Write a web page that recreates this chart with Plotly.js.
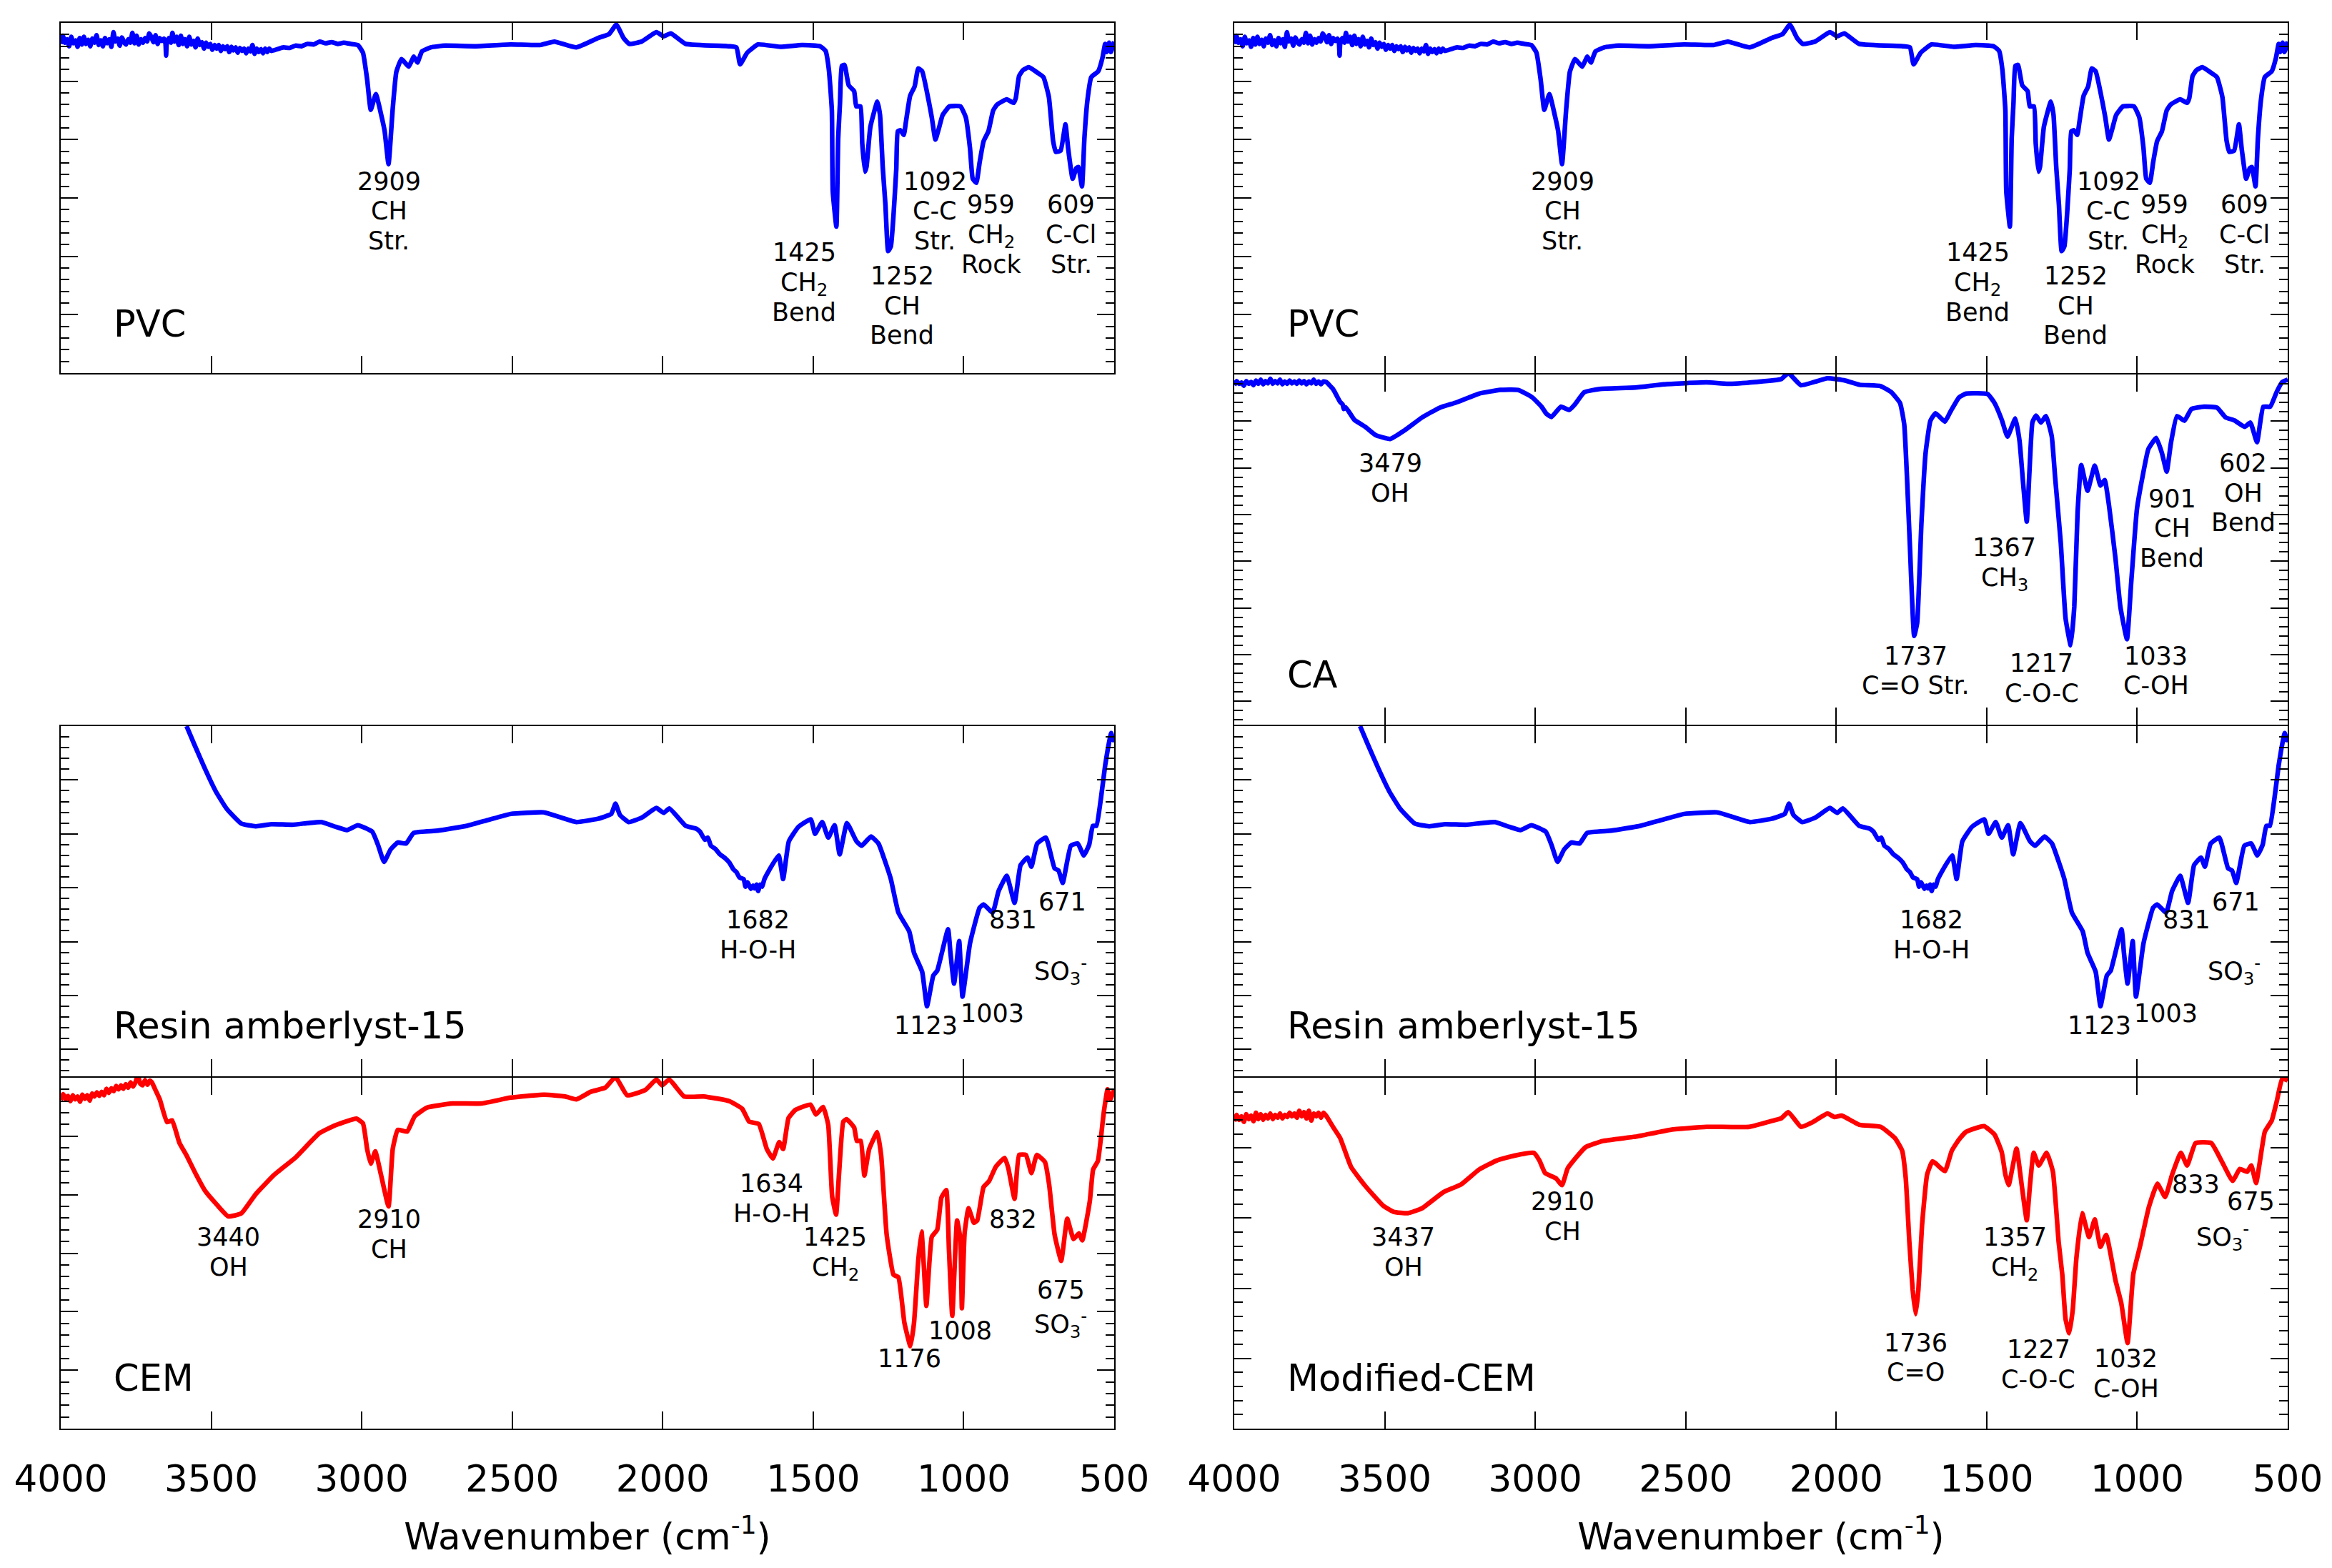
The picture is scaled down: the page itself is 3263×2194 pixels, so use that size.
<!DOCTYPE html>
<html>
<head>
<meta charset="utf-8">
<script src="https://cdn.plot.ly/plotly-3.0.1.min.js"></script>
<style>
  html, body { margin: 0; padding: 0; background: #fff; }
</style>
</head>
<body>
<div id="plot"></div>
<script>
// wavenumber (cm-1) and transmittance (%)
const pvcWn = [
  4000, 3993, 3986, 3979, 3972, 3965, 3958, 3951, 3944, 3937,
  3930, 3923, 3916, 3909, 3902, 3895, 3888, 3881, 3874, 3867,
  3860, 3853, 3846, 3839, 3832, 3825, 3818, 3811, 3804, 3797,
  3790, 3783, 3776, 3769, 3762, 3755, 3748, 3741, 3734, 3727,
  3720, 3713, 3706, 3699, 3692, 3685, 3678, 3671, 3664, 3657,
  3652, 3650, 3648, 3641, 3634, 3629, 3622, 3615, 3608, 3601,
  3594, 3587, 3580, 3573, 3566, 3559, 3552, 3545, 3538, 3531,
  3524, 3517, 3510, 3503, 3496, 3489, 3482, 3475, 3468, 3461,
  3454, 3447, 3440, 3433, 3426, 3419, 3412, 3405, 3398, 3391,
  3384, 3377, 3370, 3363, 3356, 3349, 3342, 3335, 3328, 3321,
  3314, 3307, 3300,
  3280, 3260, 3240, 3220, 3200, 3180, 3160, 3140, 3120, 3100,
  3080, 3060, 3037, 3013, 2996, 2982, 2970, 2953, 2936, 2924,
  2911, 2897, 2885, 2868, 2844, 2827, 2815, 2800, 2771, 2723,
  2626, 2505, 2408, 2360, 2287, 2215, 2178, 2154, 2130, 2111,
  2070, 2021, 1997, 1973, 1924, 1779, 1755, 1743, 1719, 1683,
  1610, 1537, 1477, 1459, 1448, 1438, 1435, 1423, 1417, 1411,
  1405, 1396, 1382, 1364, 1357, 1343, 1337, 1328, 1323, 1310,
  1287, 1278, 1269, 1260, 1251, 1242, 1233, 1224, 1219, 1210,
  1199, 1192, 1178, 1163, 1151, 1138, 1115, 1106, 1094, 1083,
  1070, 1047, 1011, 993, 979, 970, 958, 947, 934, 918,
  902, 889, 857, 834, 827, 816, 803, 784, 753, 735,
  717, 703, 694, 678, 662, 653, 638, 626, 619, 607,
  599, 589, 576, 553, 539, 530, 525, 517, 511, 500
];
const pvcT = [
  96.4, 97.8, 96.6, 97.2, 96.0, 97.6, 96.5, 97.0, 95.9, 97.4,
  96.3, 97.6, 96.4, 97.1, 96.0, 97.3, 96.6, 97.9, 96.2, 97.0,
  96.0, 97.4, 96.5, 97.2, 95.9, 98.4, 96.8, 97.3, 96.1, 97.5,
  96.7, 96.3, 97.2, 96.6, 98.3, 96.5, 97.8, 96.3, 97.2, 96.6,
  97.4, 96.8, 98.2, 97.6, 96.7, 97.9, 96.4, 97.4, 96.9, 97.3,
  96.5, 94.4, 96.4, 97.4, 96.6, 98.3, 96.8, 97.6, 96.2, 97.8,
  96.4, 97.2, 96.0, 97.6, 96.3, 96.9, 95.8, 97.3, 96.2, 96.7,
  95.6, 96.6, 95.9, 96.4, 95.4, 96.2, 95.6, 96.2, 95.2, 96.0,
  95.5, 96.0, 95.0, 95.9, 95.3, 95.8, 94.9, 95.7, 95.2, 95.6,
  94.8, 95.6, 95.1, 96.2, 94.7, 95.6, 95.0, 95.5, 94.8, 95.6,
  95.0, 95.6, 95.2,
  95.5, 95.8, 95.7, 96.1, 96.0, 96.4, 96.3, 96.8, 96.5, 96.7,
  96.4, 96.6, 96.4, 96.2, 94.9, 90.3, 85.1, 87.8, 84.4, 81.5,
  75.8, 85.3, 91.6, 93.8, 92.5, 94.2, 93.2, 95.1, 95.8, 96.1,
  96.0, 96.3, 96.2, 96.8, 95.8, 97.4, 98.1, 99.7, 97.4, 96.4,
  96.8, 98.4, 97.7, 98.2, 96.4, 96.0, 95.8, 92.9, 94.9, 96.3,
  95.9, 96.2, 96.0, 95.2, 92.0, 85.0, 71.2, 65.1, 80.2, 86.3,
  92.6, 92.8, 89.3, 88.3, 85.7, 85.7, 79.3, 74.5, 75.3, 82.2,
  86.5, 84.2, 75.3, 68.8, 60.9, 61.7, 67.2, 74.9, 81.4, 81.6,
  80.8, 83.0, 87.5, 89.1, 92.2, 91.7, 86.3, 83.8, 80.0, 81.8,
  84.2, 85.7, 85.7, 83.8, 78.5, 73.3, 72.6, 76.1, 79.7, 81.4,
  85.0, 86.0, 86.9, 86.3, 87.1, 90.9, 91.9, 92.4, 91.4, 90.7,
  87.3, 79.8, 77.9, 78.1, 82.6, 78.5, 73.3, 75.1, 75.3, 72.0,
  80.2, 86.7, 90.7, 91.7, 94.0, 96.4, 95.0, 96.6, 95.0, 96.8
];

const caWn = [
  4000, 3992, 3984, 3976, 3968, 3960, 3952, 3944, 3936, 3928,
  3920, 3912, 3904, 3896, 3888, 3880, 3872, 3864, 3856, 3848,
  3840, 3832, 3824, 3816, 3808, 3800, 3792, 3784, 3776, 3768,
  3760, 3752, 3744, 3736, 3728, 3720, 3712, 3704,
  3695, 3672, 3648, 3640, 3636, 3630, 3601, 3565, 3530, 3482,
  3435, 3376, 3317, 3258, 3187, 3116, 3057, 3010, 2979, 2963,
  2946, 2915, 2887, 2868, 2837, 2785, 2667, 2573, 2431, 2360,
  2266, 2183, 2159, 2117, 2029, 1970, 1923, 1852, 1817, 1788,
  1774, 1765, 1755, 1741, 1731, 1717, 1703, 1687, 1670, 1639,
  1620, 1592, 1568, 1497, 1474, 1450, 1431, 1405, 1391, 1379,
  1367, 1358, 1348, 1336, 1320, 1303, 1284, 1273, 1254, 1238,
  1221, 1209, 1198, 1186, 1165, 1141, 1122, 1108, 1094, 1072,
  1056, 1034, 1020, 1001, 982, 963, 937, 918, 902, 888,
  868, 843, 820, 778, 735, 706, 678, 643, 624, 602,
  581, 558, 537, 518, 500
];
const caT = [
  97.7, 98.6, 98.0, 98.3, 97.6, 98.6, 98.0, 98.4, 97.7, 98.7,
  98.0, 98.9, 97.9, 98.6, 98.1, 99.1, 98.0, 98.6, 98.1, 98.9,
  97.9, 98.5, 98.0, 98.7, 98.1, 98.5, 98.0, 98.7, 98.1, 98.6,
  97.9, 98.5, 98.1, 98.9, 98.0, 98.5, 97.9, 98.5,
  98.4, 96.9, 94.1, 93.6, 92.6, 93.0, 90.3, 88.8, 87.0, 86.2,
  88.0, 90.8, 92.9, 94.1, 95.9, 96.7, 96.7, 95.1, 93.1, 91.6,
  90.9, 93.1, 92.4, 93.6, 96.2, 96.9, 97.2, 97.9, 98.3, 98.0,
  98.4, 99.0, 100.3, 97.7, 99.2, 98.7, 97.8, 97.5, 96.2, 93.9,
  89.3, 78.2, 63.0, 44.0, 46.8, 68.0, 83.2, 90.1, 91.7, 89.9,
  92.1, 95.1, 95.9, 95.8, 93.9, 90.3, 86.7, 90.6, 85.8, 76.7,
  68.5, 79.2, 89.8, 91.2, 89.7, 91.1, 86.8, 78.2, 64.0, 47.8,
  42.0, 50.3, 70.6, 80.6, 75.1, 80.5, 76.2, 77.4, 72.1, 60.5,
  50.3, 43.3, 55.4, 71.1, 78.2, 84.0, 86.4, 83.2, 79.2, 85.3,
  91.1, 90.1, 92.6, 93.1, 92.9, 90.8, 90.2, 88.8, 89.7, 85.5,
  93.1, 93.1, 96.2, 98.4, 98.9
];

const resinWn = [
  3582, 3557, 3521, 3485, 3448, 3400, 3352, 3300, 3231, 3180,
  3134, 3086, 3049, 3013, 2965, 2945, 2926, 2904, 2880, 2853,
  2827, 2747, 2650, 2578, 2505, 2396, 2336, 2287, 2215, 2171,
  2157, 2142, 2113, 2070, 2021, 1997, 1978, 1924, 1905, 1890,
  1876, 1860, 1850, 1840, 1825, 1810, 1795, 1779, 1765, 1755,
  1745, 1731, 1725, 1718, 1707, 1700, 1695, 1688, 1683, 1676,
  1670, 1662, 1654, 1615, 1600, 1581,
  1549, 1508, 1494, 1470, 1450, 1429, 1412, 1388, 1356, 1339,
  1308, 1283, 1260, 1242, 1217, 1181, 1165, 1138, 1122, 1101,
  1088, 1052, 1044, 1032, 1015, 1004, 979, 947, 934, 904,
  884, 857, 831, 811, 788, 775, 756, 727, 698, 685,
  671, 644, 621, 601, 583, 571, 559, 544, 530, 521,
  510, 503, 500
];
const resinT = [
  100, 96.7, 92.1, 87.9, 84.6, 81.9, 81.4, 81.8, 81.7, 82.0,
  82.2, 81.3, 80.7, 81.6, 80.4, 77.8, 74.8, 77.1, 78.4, 78.2,
  80.2, 80.6, 81.5, 82.6, 83.7, 84.0, 83.0, 82.2, 82.8, 83.7,
  85.6, 83.5, 82.2, 83.0, 84.8, 83.9, 84.7, 81.5, 81.2, 81.0,
  80.4, 78.9, 79.3, 77.8, 77.2, 76.2, 75.6, 74.7, 73.4, 72.9,
  71.9, 71.6, 70.2, 71.0, 69.8, 70.4, 69.9, 70.6, 69.4, 70.6,
  70.2, 71.6, 72.5, 76.0, 71.6, 78.6,
  81.3, 82.7, 80.0, 82.2, 79.3, 81.6, 76.2, 82.0, 78.6, 77.8,
  79.5, 78.2, 74.7, 71.6, 65.4, 61.9, 57.9, 54.4, 48.0, 53.7,
  54.6, 62.3, 57.9, 52.2, 60.1, 49.8, 59.7, 66.3, 66.9, 65.4,
  69.4, 72.2, 67.2, 74.2, 75.6, 73.9, 78.2, 79.3, 73.6, 73.2,
  70.9, 77.8, 78.2, 76.0, 78.0, 81.5, 81.5, 86.6, 92.7, 95.8,
  98.7, 97.4, 98.2
];

const cemWn = [
  4000, 3992, 3984, 3976, 3968, 3960, 3952, 3944, 3936, 3928,
  3920, 3912, 3904, 3896, 3888, 3880, 3872, 3864, 3856, 3848,
  3840, 3832, 3824, 3816, 3808, 3800, 3792, 3784, 3776, 3768,
  3760, 3752, 3744, 3736, 3728, 3720, 3712, 3704, 3696, 3688,
  3671, 3647, 3630, 3606, 3582, 3550, 3521, 3485, 3444, 3400,
  3352, 3291, 3219, 3141, 3086, 3018, 2996, 2982, 2970, 2955,
  2936, 2911, 2897, 2880, 2849, 2824, 2783, 2699, 2602, 2505,
  2396, 2324, 2287, 2239, 2191, 2157, 2118, 2058, 2021, 2002,
  1978, 1929, 1864, 1779, 1736, 1713, 1681, 1654, 1634, 1613,
  1600, 1582, 1559, 1509, 1491, 1467, 1450, 1437, 1424, 1414,
  1400, 1389, 1364, 1355, 1342, 1330, 1314, 1287, 1274, 1256,
  1233, 1217, 1197, 1177, 1165, 1151, 1140, 1133, 1124, 1106,
  1088, 1074, 1058, 1049, 1038, 1022, 1011, 1006, 997, 984,
  966, 955, 934, 916, 893, 864, 852, 831, 816, 793,
  775, 757, 730, 716, 698, 676, 656, 635, 617, 606,
  581, 570, 554, 535, 522, 513, 500
];
const cemT = [
  96.2, 97.2, 96.4, 96.9, 96.0, 97.0, 96.3, 96.8, 95.9, 97.1,
  96.4, 97.0, 96.1, 97.3, 96.8, 97.5, 96.9, 97.6, 97.0, 98.1,
  97.4, 98.2, 97.7, 98.6, 98.0, 98.7, 98.1, 98.9, 98.3, 99.2,
  98.5, 99.2, 100.4, 99.0, 98.7, 99.6, 98.8, 99.5, 99.1, 98.2,
  96.3, 92.4, 92.7, 88.9, 86.7, 83.4, 80.7, 78.5, 76.3, 76.8,
  80.1, 83.4, 86.4, 90.5, 91.9, 93.0, 92.2, 87.8, 85.3, 87.4,
  83.4, 78.0, 87.8, 91.1, 90.8, 93.4, 94.9, 95.6, 95.6, 96.6,
  97.1, 96.8, 96.3, 97.6, 98.3, 100.1, 97.0, 97.9, 99.7, 98.7,
  99.7, 96.8, 96.8, 96.0, 94.7, 92.5, 92.1, 87.8, 86.2, 89.0,
  87.8, 93.1, 94.5, 95.4, 93.7, 95.0, 91.9, 79.7, 76.6, 83.7,
  92.5, 92.9, 91.5, 89.2, 89.2, 83.3, 87.8, 90.7, 86.6, 73.2,
  66.3, 65.9, 58.1, 54.1, 58.1, 68.7, 73.7, 68.3, 61.0, 72.8,
  74.0, 79.5, 80.8, 70.7, 59.3, 75.6, 72.4, 60.6, 73.4, 77.7,
  75.2, 75.6, 81.3, 82.3, 84.8, 86.3, 84.6, 79.3, 86.8, 86.8,
  83.7, 86.8, 85.6, 81.7, 73.2, 68.7, 75.9, 72.4, 73.4, 72.2,
  78.9, 84.3, 85.8, 93.9, 98.0, 96.3, 98.0
];

const modWn = [
  4000, 3992, 3984, 3976, 3968, 3960, 3952, 3944, 3936, 3928,
  3920, 3912, 3904, 3896, 3888, 3880, 3872, 3864, 3856, 3848,
  3840, 3832, 3824, 3816, 3808, 3800, 3792, 3784, 3776, 3768,
  3760, 3752, 3744, 3736, 3728, 3720, 3712, 3704,
  3695, 3672, 3648, 3612, 3565, 3506, 3471, 3423, 3376, 3305,
  3246, 3187, 3128, 3069, 3005, 2986, 2967, 2932, 2911, 2892,
  2833, 2774, 2667, 2549, 2431, 2289, 2218, 2183, 2159, 2117,
  2077, 2029, 2006, 1982, 1923, 1852, 1805, 1781, 1769, 1757,
  1746, 1736, 1727, 1715, 1698, 1680, 1639, 1616, 1592, 1568,
  1509, 1474, 1450, 1438, 1427, 1401, 1384, 1367, 1356, 1344,
  1327, 1301, 1280, 1261, 1249, 1238, 1226, 1214, 1202, 1183,
  1160, 1141, 1122, 1103, 1072, 1053, 1032, 1013, 990, 961,
  933, 907, 884, 855, 834, 806, 754, 718, 683, 659,
  635, 621, 605, 576, 553, 536, 518, 500
];
const modT = [
  93.8, 94.7, 94.0, 94.5, 93.7, 94.8, 94.1, 94.6, 93.8, 95.0,
  94.1, 94.8, 94.0, 94.7, 94.2, 94.9, 94.1, 94.7, 94.3, 94.9,
  94.2, 94.7, 94.4, 95.0, 94.5, 94.9, 94.3, 95.3, 94.5, 95.1,
  94.2, 95.3, 93.9, 94.9, 94.5, 95.0, 94.3, 95.0,
  94.6, 93.0, 91.4, 87.3, 84.6, 81.8, 80.9, 80.7, 81.4, 83.7,
  84.8, 86.9, 88.2, 88.9, 89.3, 88.2, 86.4, 85.7, 84.7, 87.1,
  90.1, 91.0, 91.6, 92.6, 93.0, 93.0, 93.8, 94.2, 95.1, 93.0,
  93.7, 94.9, 94.4, 94.6, 93.3, 93.0, 91.4, 89.6, 85.7, 76.6,
  69.8, 66.3, 69.8, 78.9, 86.2, 88.1, 86.7, 89.6, 91.2, 92.3,
  93.1, 91.9, 89.4, 86.2, 84.7, 89.9, 84.8, 79.7, 84.8, 89.3,
  87.5, 89.3, 86.6, 76.6, 72.0, 65.6, 63.6, 67.0, 74.3, 80.7,
  77.3, 79.8, 75.9, 77.6, 71.1, 67.9, 62.2, 72.0, 76.1, 81.6,
  84.9, 83.0, 86.2, 89.3, 87.5, 90.7, 90.7, 88.0, 85.3, 87.0,
  86.6, 87.5, 85.0, 92.3, 93.9, 96.7, 99.9, 99.6
];

// peak labels: text, then wavenumber and transmittance of the top of the text
const so3 = 'SO<sub>3</sub><sup>-</sup>';
const ch2 = 'CH<sub>2</sub>';
const pvcLabels = ['2909<br>CH<br>Str.', '1425<br>' + ch2 + '<br>Bend', '1252<br>CH<br>Bend', '1092<br>C-C<br>Str.', '959<br>' + ch2 + '<br>Rock', '609<br>C-Cl<br>Str.'];
const pvcLabelWn = [2910, 1530, 1205, 1096, 909, 643];
const pvcLabelT = [75.3, 63.1, 59.1, 75.3, 71.3, 71.3];
const caLabels = ['3479<br>OH', '1737<br>C=O Str.', '1367<br>CH<sub>3</sub>', '1217<br>C-O-C', '1033<br>C-OH', '901<br>CH<br>Bend', '602<br>OH<br>Bend'];
const caLabelWn = [3482, 1737, 1441, 1318, 938, 884, 648];
const caLabelT = [84.1, 42.8, 66, 41.2, 42.8, 76.5, 84.1];
const resinLabels = ['1682<br>H-O-H', '1123', '1003', '831', '671', so3];
const resinLabelWn = [1683, 1126, 904, 835, 672, 677];
const resinLabelT = [66.7, 47.1, 49.3, 66.7, 70, 57.9];
const cemLabels = ['3440<br>OH', '2910<br>CH', '1634<br>H-O-H', '1425<br>' + ch2, '1176', '1008', '832', '675<br>' + so3];
const cemLabelWn = [3443, 2910, 1639, 1427, 1180, 1012, 835, 677];
const cemLabelT = [75.2, 78.2, 84.3, 75.2, 54.4, 59.2, 78.2, 66.1];
const modLabels = ['3437<br>OH', '2910<br>CH', '1736<br>C=O', '1357<br>' + ch2, '1227<br>C-O-C', '1032<br>C-OH', '833', '675', so3];
const modLabelWn = [3438, 2910, 1737, 1407, 1328, 1037, 805, 623, 717];
const modLabelT = [79.3, 84.4, 64.3, 79.3, 63.3, 62, 86.9, 84.4, 79.9];

const W = 3263, H = 2194;
const BLUE = '#0000ff', RED = '#ff0000';
const colX = [[84, 1560], [1726, 3202]];
const rowY = [31, 523, 1015, 1507, 2000];
const FRAME = 2;
const LINE_STEP = 41.7;

const traces = [];
const layout = {
  width: W,
  height: H,
  margin: { l: 0, r: 0, t: 0, b: 0 },
  paper_bgcolor: '#fff',
  plot_bgcolor: '#fff',
  showlegend: false,
  font: { family: 'DejaVu Sans', color: '#000' },
  annotations: []
};

function addPanel(n, col, row, tMin, name, wn, t, labels, labelWn, labelT, color) {
  const suffix = n === 1 ? '' : String(n);
  traces.push({
    x: wn,
    y: t,
    xaxis: 'x' + suffix,
    yaxis: 'y' + suffix,
    type: 'scatter',
    mode: 'lines',
    cliponaxis: false,
    line: { color: color, width: 6.5, simplify: false, shape: 'spline', smoothing: 0.4 }
  });

  // plotly draws the frame outside the plot area, so pull the domain in by half a line
  layout['xaxis' + suffix] = {
    domain: [(colX[col][0] + FRAME / 2) / W, (colX[col][1] - FRAME / 2) / W],
    anchor: 'y' + suffix,
    range: [4000, 500],
    tick0: 500,
    dtick: 500,
    ticks: 'inside',
    ticklen: 24,
    tickwidth: 2,
    tickcolor: '#000',
    showline: true,
    linewidth: FRAME,
    linecolor: '#000',
    mirror: 'allticks',
    showgrid: false,
    zeroline: false,
    showticklabels: row === 3,
    ticklabelstandoff: 24,
    tickfont: { family: 'DejaVu Sans', size: 51.5, color: '#000' }
  };
  if (row === 3) {
    layout['xaxis' + suffix].title = {
      text: 'Wavenumber (cm<sup>-1</sup>)',
      font: { family: 'DejaVu Sans', size: 51.5, color: '#000' },
      standoff: 34
    };
  }

  layout['yaxis' + suffix] = {
    domain: [1 - (rowY[row + 1] - FRAME / 2) / H, 1 - (rowY[row] + FRAME / 2) / H],
    anchor: 'x' + suffix,
    range: [tMin, 100],
    tick0: 0,
    dtick: 10,
    ticks: 'inside',
    ticklen: 24,
    tickwidth: 2,
    tickcolor: '#000',
    minor: { dtick: 2, tick0: 0, ticks: 'inside', ticklen: 12, tickwidth: 2, tickcolor: '#000' },
    showline: true,
    linewidth: FRAME,
    linecolor: '#000',
    mirror: 'allticks',
    showgrid: false,
    zeroline: false,
    showticklabels: false
  };

  labels.forEach((text, i) => {
    text.split('<br>').forEach((line, k) => {
      layout.annotations.push({
        xref: 'x' + suffix,
        yref: 'y' + suffix,
        x: labelWn[i],
        y: labelT[i],
        yshift: 2 - k * LINE_STEP,
        text: line,
        showarrow: false,
        xanchor: 'center',
        yanchor: 'top',
        align: 'center',
        font: { family: 'DejaVu Sans', size: 35, color: '#000' }
      });
    });
  });

  // sample name
  layout.annotations.push({
    xref: 'x' + suffix,
    yref: 'y' + suffix + ' domain',
    x: 3828,
    y: 1 - (name.y - rowY[row]) / (rowY[row + 1] - rowY[row]),
    text: name.text,
    showarrow: false,
    xanchor: 'left',
    yanchor: 'middle',
    font: { family: 'DejaVu Sans', size: 51, color: '#000' }
  });
}

addPanel(1, 0, 0, 40, { text: 'PVC', y: 454 }, pvcWn, pvcT, pvcLabels, pvcLabelWn, pvcLabelT, BLUE);
addPanel(2, 0, 2, 35, { text: 'Resin amberlyst-15', y: 1436 }, resinWn, resinT, resinLabels, resinLabelWn, resinLabelT, BLUE);
addPanel(3, 0, 3, 40, { text: 'CEM', y: 1929 }, cemWn, cemT, cemLabels, cemLabelWn, cemLabelT, RED);
addPanel(4, 1, 0, 40, { text: 'PVC', y: 454 }, pvcWn, pvcT, pvcLabels, pvcLabelWn, pvcLabelT, BLUE);
addPanel(5, 1, 1, 25, { text: 'CA', y: 945 }, caWn, caT, caLabels, caLabelWn, caLabelT, BLUE);
addPanel(6, 1, 2, 35, { text: 'Resin amberlyst-15', y: 1436 }, resinWn, resinT, resinLabels, resinLabelWn, resinLabelT, BLUE);
addPanel(7, 1, 3, 50, { text: 'Modified-CEM', y: 1929 }, modWn, modT, modLabels, modLabelWn, modLabelT, RED);

Plotly.newPlot('plot', traces, layout, { displayModeBar: false });
</script>
</body>
</html>
